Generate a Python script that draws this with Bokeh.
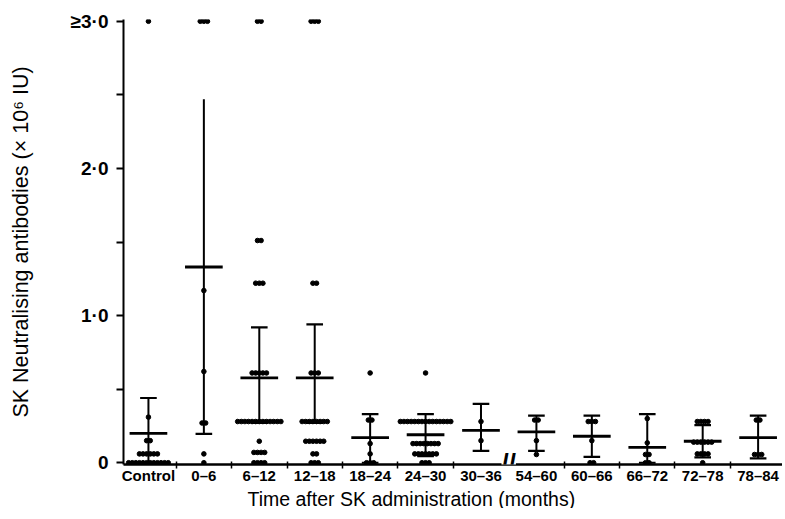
from collections import Counter
from bokeh.plotting import figure
from bokeh.models import FixedTicker, Range1d, Title, Label
from bokeh.embed import file_html
from bokeh.resources import INLINE

categories = ["Control", "0–6", "6–12", "12–18", "18–24", "24–30", "30–36",
              "54–60", "60–66", "66–72", "72–78", "78–84"]
break_after = 6  # axis break between "30–36" and "54–60"

# individual antibody values (x 10^6 IU), 3.0 means >=3.0
v_control = [3.0, 0.31, 0.15, 0.15, 0.06, 0.06, 0.06, 0.06, 0.06, 0.06,
             0.0, 0.0, 0.0, 0.0, 0.0, 0.0, 0.0, 0.0, 0.0, 0.0, 0.0, 0.0]
v_0_6 = [3.0, 3.0, 3.0, 1.17, 0.62, 0.27, 0.27, 0.06, 0.0]
v_6_12 = [3.0, 3.0, 1.51, 1.51, 1.22, 1.22, 1.22, 0.61, 0.61, 0.61, 0.61, 0.61,
          0.28, 0.28, 0.28, 0.28, 0.28, 0.28, 0.28, 0.28, 0.28, 0.28, 0.28, 0.28, 0.28,
          0.146, 0.07, 0.07, 0.07, 0.07, 0.0, 0.0, 0.0, 0.0]
v_12_18 = [3.0, 3.0, 3.0, 1.22, 1.22, 0.61, 0.61, 0.61,
           0.28, 0.28, 0.28, 0.28, 0.28, 0.28, 0.28, 0.28,
           0.146, 0.146, 0.146, 0.146, 0.146, 0.146, 0.06, 0.06, 0.0, 0.0, 0.0]
v_18_24 = [0.61, 0.29, 0.29, 0.13, 0.06, 0.0, 0.0, 0.0]
v_24_30 = [0.61, 0.28, 0.28, 0.28, 0.28, 0.28, 0.28, 0.28, 0.28, 0.28, 0.28,
           0.28, 0.28, 0.28, 0.28, 0.28,
           0.13, 0.13, 0.13, 0.13, 0.13, 0.13, 0.13, 0.13,
           0.06, 0.06, 0.06, 0.06, 0.06, 0.06, 0.06, 0.0, 0.0, 0.0]
v_30_36 = [0.28, 0.15]
v_54_60 = [0.29, 0.29, 0.15, 0.056]
v_60_66 = [0.28, 0.28, 0.28, 0.15, 0.0, 0.0]
v_66_72 = [0.30, 0.135, 0.056, 0.056, 0.0, 0.0]
v_72_78 = [0.28, 0.28, 0.28, 0.28, 0.14, 0.14, 0.14, 0.14, 0.14, 0.14,
           0.06, 0.06, 0.06, 0.06, 0.0]
v_78_84 = [0.29, 0.29, 0.056, 0.056, 0.056]

group_values = [v_control, v_0_6, v_6_12, v_12_18, v_18_24, v_24_30, v_30_36,
                v_54_60, v_60_66, v_66_72, v_72_78, v_78_84]

means = [0.20, 1.33, 0.577, 0.577, 0.17, 0.19, 0.22, 0.21, 0.18, 0.105, 0.146, 0.17]
upper = [0.44, 2.47, 0.92, 0.94, 0.33, 0.33, 0.40, 0.32, 0.32, 0.33, 0.255, 0.32]
lower = [0.0, 0.196, 0.27, 0.27, 0.0, 0.045, 0.08, 0.08, 0.04, 0.0, 0.037, 0.03]
upper_cap = [True, False, True, True, True, True, True, True, True, True, True, True]

y_ticks = [0, 1, 2, 3]
y_tick_labels = ["0", "1·0", "2·0", "≥3·0"]
y_minor = [0.5, 1.5, 2.5]

FONT = "Liberation Sans"

p = figure(frame_width=659, frame_height=445, output_backend="svg",
           toolbar_location=None, x_range=Range1d(-0.45, 11.44),
           y_range=Range1d(-0.012, 3.012),
           min_border_left=123, min_border_right=0, min_border_top=19,
           min_border_bottom=0)
p.outline_line_color = None
p.xgrid.visible = False
p.ygrid.visible = False

idx = list(range(len(categories)))

# dots, arranged side by side when values coincide
step = 0.065
xs, ys = [], []
for i, vals in enumerate(group_values):
    counts = Counter(vals)
    for v, n in counts.items():
        for k in range(n):
            xs.append(i + (k - (n - 1) / 2) * step)
            ys.append(v)
p.scatter(xs, ys, size=4.6, color="black", marker="circle")

# vertical bars
p.segment(x0=idx, y0=lower, x1=idx, y1=upper, line_color="black", line_width=2)
# caps
cap_w = 0.15
p.segment(x0=[i - cap_w for i in idx], y0=lower, x1=[i + cap_w for i in idx],
          y1=lower, line_color="black", line_width=2.2)
ui = [i for i in idx if upper_cap[i]]
p.segment(x0=[i - cap_w for i in ui], y0=[upper[i] for i in ui],
          x1=[i + cap_w for i in ui], y1=[upper[i] for i in ui],
          line_color="black", line_width=2.2)
# means
mw = 0.34
p.segment(x0=[i - mw for i in idx], y0=means, x1=[i + mw for i in idx], y1=means,
          line_color="black", line_width=2.8)

# x axis: category labels, separator ticks between categories
seps = [i + 0.5 for i in idx[:-1] if i != break_after]
xa = p.xaxis[0]
xa.ticker = FixedTicker(ticks=idx, minor_ticks=seps)
xa.major_label_overrides = {i: c for i, c in enumerate(categories)}
xa.major_tick_line_color = None
xa.major_tick_in = 0
xa.major_tick_out = 0
xa.minor_tick_in = 3
xa.minor_tick_out = 4
xa.minor_tick_line_width = 1.5
xa.minor_tick_line_color = "black"
xa.axis_line_width = 2.5
xa.axis_line_color = "black"
xa.major_label_text_font = FONT
xa.major_label_text_font_size = "15px"
xa.major_label_text_font_style = "bold"
xa.major_label_text_color = "black"
xa.major_label_standoff = -2

ya = p.yaxis[0]
ya.ticker = FixedTicker(ticks=y_ticks, minor_ticks=y_minor)
ya.major_label_overrides = {t: l for t, l in zip(y_ticks, y_tick_labels)}
ya.major_tick_in = 0
ya.major_tick_out = 7
ya.minor_tick_in = 0
ya.minor_tick_out = 7
ya.major_tick_line_width = 2
ya.minor_tick_line_width = 2
ya.minor_tick_line_color = "black"
ya.major_tick_line_color = "black"
ya.axis_line_width = 2
ya.axis_line_color = "black"
ya.major_label_text_font = FONT
ya.major_label_text_font_size = "19px"
ya.major_label_text_font_style = "bold"
ya.major_label_text_color = "black"
ya.major_label_standoff = 8
ya.axis_label = "SK Neutralising antibodies (× 10⁶ IU)"
ya.axis_label_text_font = FONT
ya.axis_label_text_font_size = "21.5px"
ya.axis_label_text_font_style = "normal"
ya.axis_label_text_color = "black"
ya.axis_label_standoff = 35

xt = Title(text="Time after SK administration (months)", align="left", offset=124,
           text_font=FONT, text_font_size="19.5px", text_font_style="normal",
           text_color="black", standoff=-2)
p.add_layout(xt, "below")

brk = Label(x=break_after + 0.5, y=0, text="//", text_align="center",
            text_baseline="middle", text_font=FONT, text_font_size="26px",
            text_font_style="bold", text_color="black",
            background_fill_color="white")
p.add_layout(brk)

open("out.html", "w").write(file_html(p, INLINE))
